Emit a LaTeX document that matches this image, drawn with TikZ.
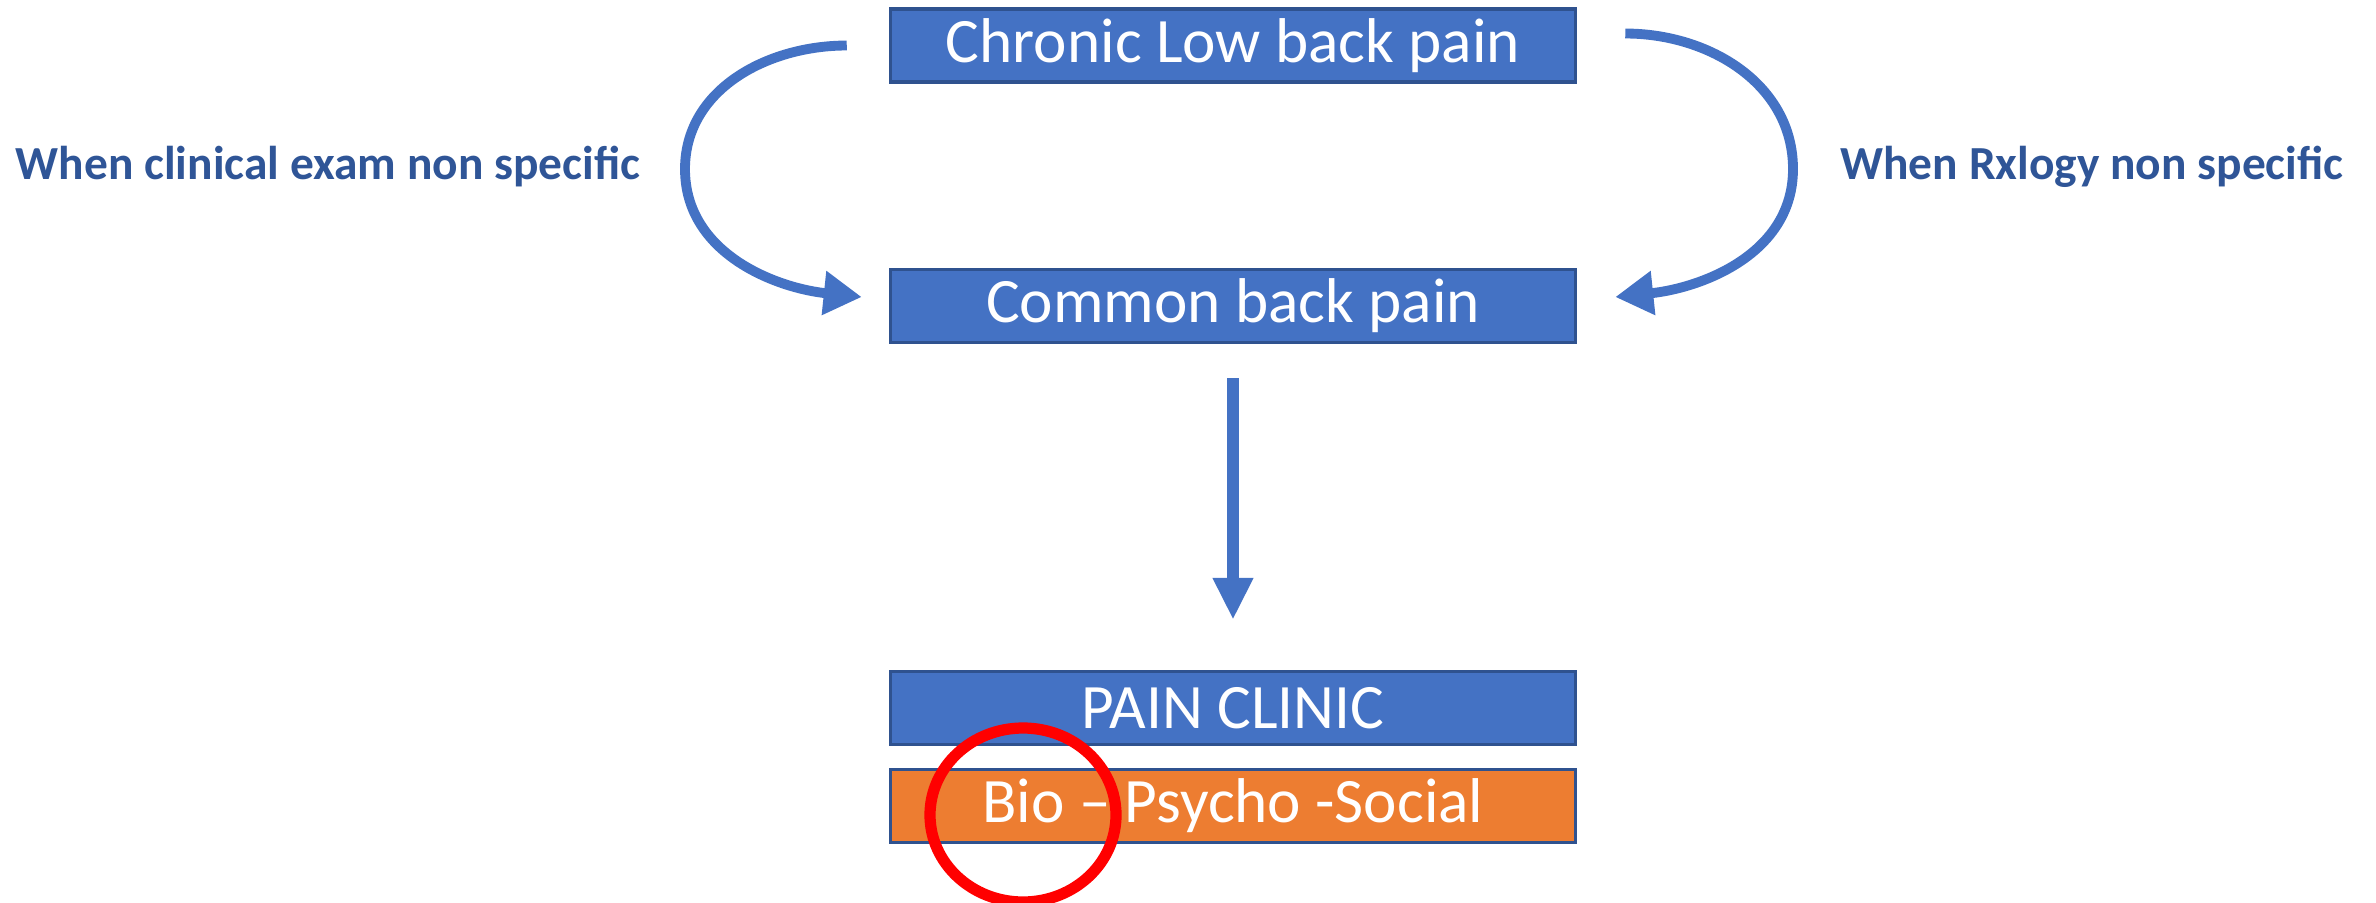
\documentclass[tikz,border=0pt]{standalone}
\usepackage{fontspec}
\setmainfont{Carlito}
\usetikzlibrary{arrows.meta}
\definecolor{boxblue}{RGB}{68, 114, 196}
\definecolor{boxedge}{RGB}{47, 82, 143}
\definecolor{orange}{RGB}{237, 125, 49}
\definecolor{labelblue}{RGB}{47, 85, 151}
\definecolor{red}{RGB}{255, 0, 0}

\begin{document}
\begin{tikzpicture}[
    box/.style={draw=boxedge, line width=1pt, fill=boxblue, text=white,
      minimum width=6.85cm, minimum height=0.73cm, inner sep=0pt,
      font=\fontsize{18}{20}\selectfont},
    sidelabel/.style={text=labelblue, font=\fontsize{13.5}{16}\selectfont\bfseries},
    curvearrow/.style={draw=boxblue, line width=2.8pt, -{Triangle[width=0.42cm, length=0.38cm]}},
  ]
  \useasboundingbox (0, 0) rectangle (23.76, 9.02);

  % Boxes
  \node[box] (chronic) at (12.33, 8.565) {Chronic Low back pain};
  \node[box] (common)  at (12.33, 5.96)  {Common back pain};
  \node[box] (clinic)  at (12.33, 1.94)  {PAIN CLINIC};
  \node[box, fill=orange] (bps) at (12.33, 0.96) {Bio -- Psycho -Social};

  % Side labels
  \node[sidelabel] (examlabel) at (3.28, 7.35)  {When clinical exam non specific};
  \node[sidelabel] (rxlabel)   at (20.92, 7.35) {When Rxlogy non specific};

  % Curved arrows
  \coordinate (leftturn)  at (6.85, 7.33);
  \coordinate (rightturn) at (17.93, 7.33);
  \draw[curvearrow] ([xshift=-4.2mm]chronic.west) to[out=180, in=90] (leftturn)
    to[out=-90, in=174] ([xshift=-2.7mm, yshift=0.9mm]common.west);
  \draw[curvearrow] ([xshift=4.8mm, yshift=1.2mm]chronic.east) to[out=0, in=90] (rightturn)
    to[out=-90, in=6] ([xshift=3.8mm, yshift=0.9mm]common.east);

  % Down arrow
  \draw[draw=boxblue, line width=3.4pt, -{Triangle[width=0.38cm, length=0.42cm]}]
    ([yshift=-3.4mm]common.south) -- ([yshift=5mm]clinic.north);

  % Highlight
  \draw[red, line width=3.2pt] (10.23, 0.87) ellipse (0.93 and 0.87);
\end{tikzpicture}
\end{document}
